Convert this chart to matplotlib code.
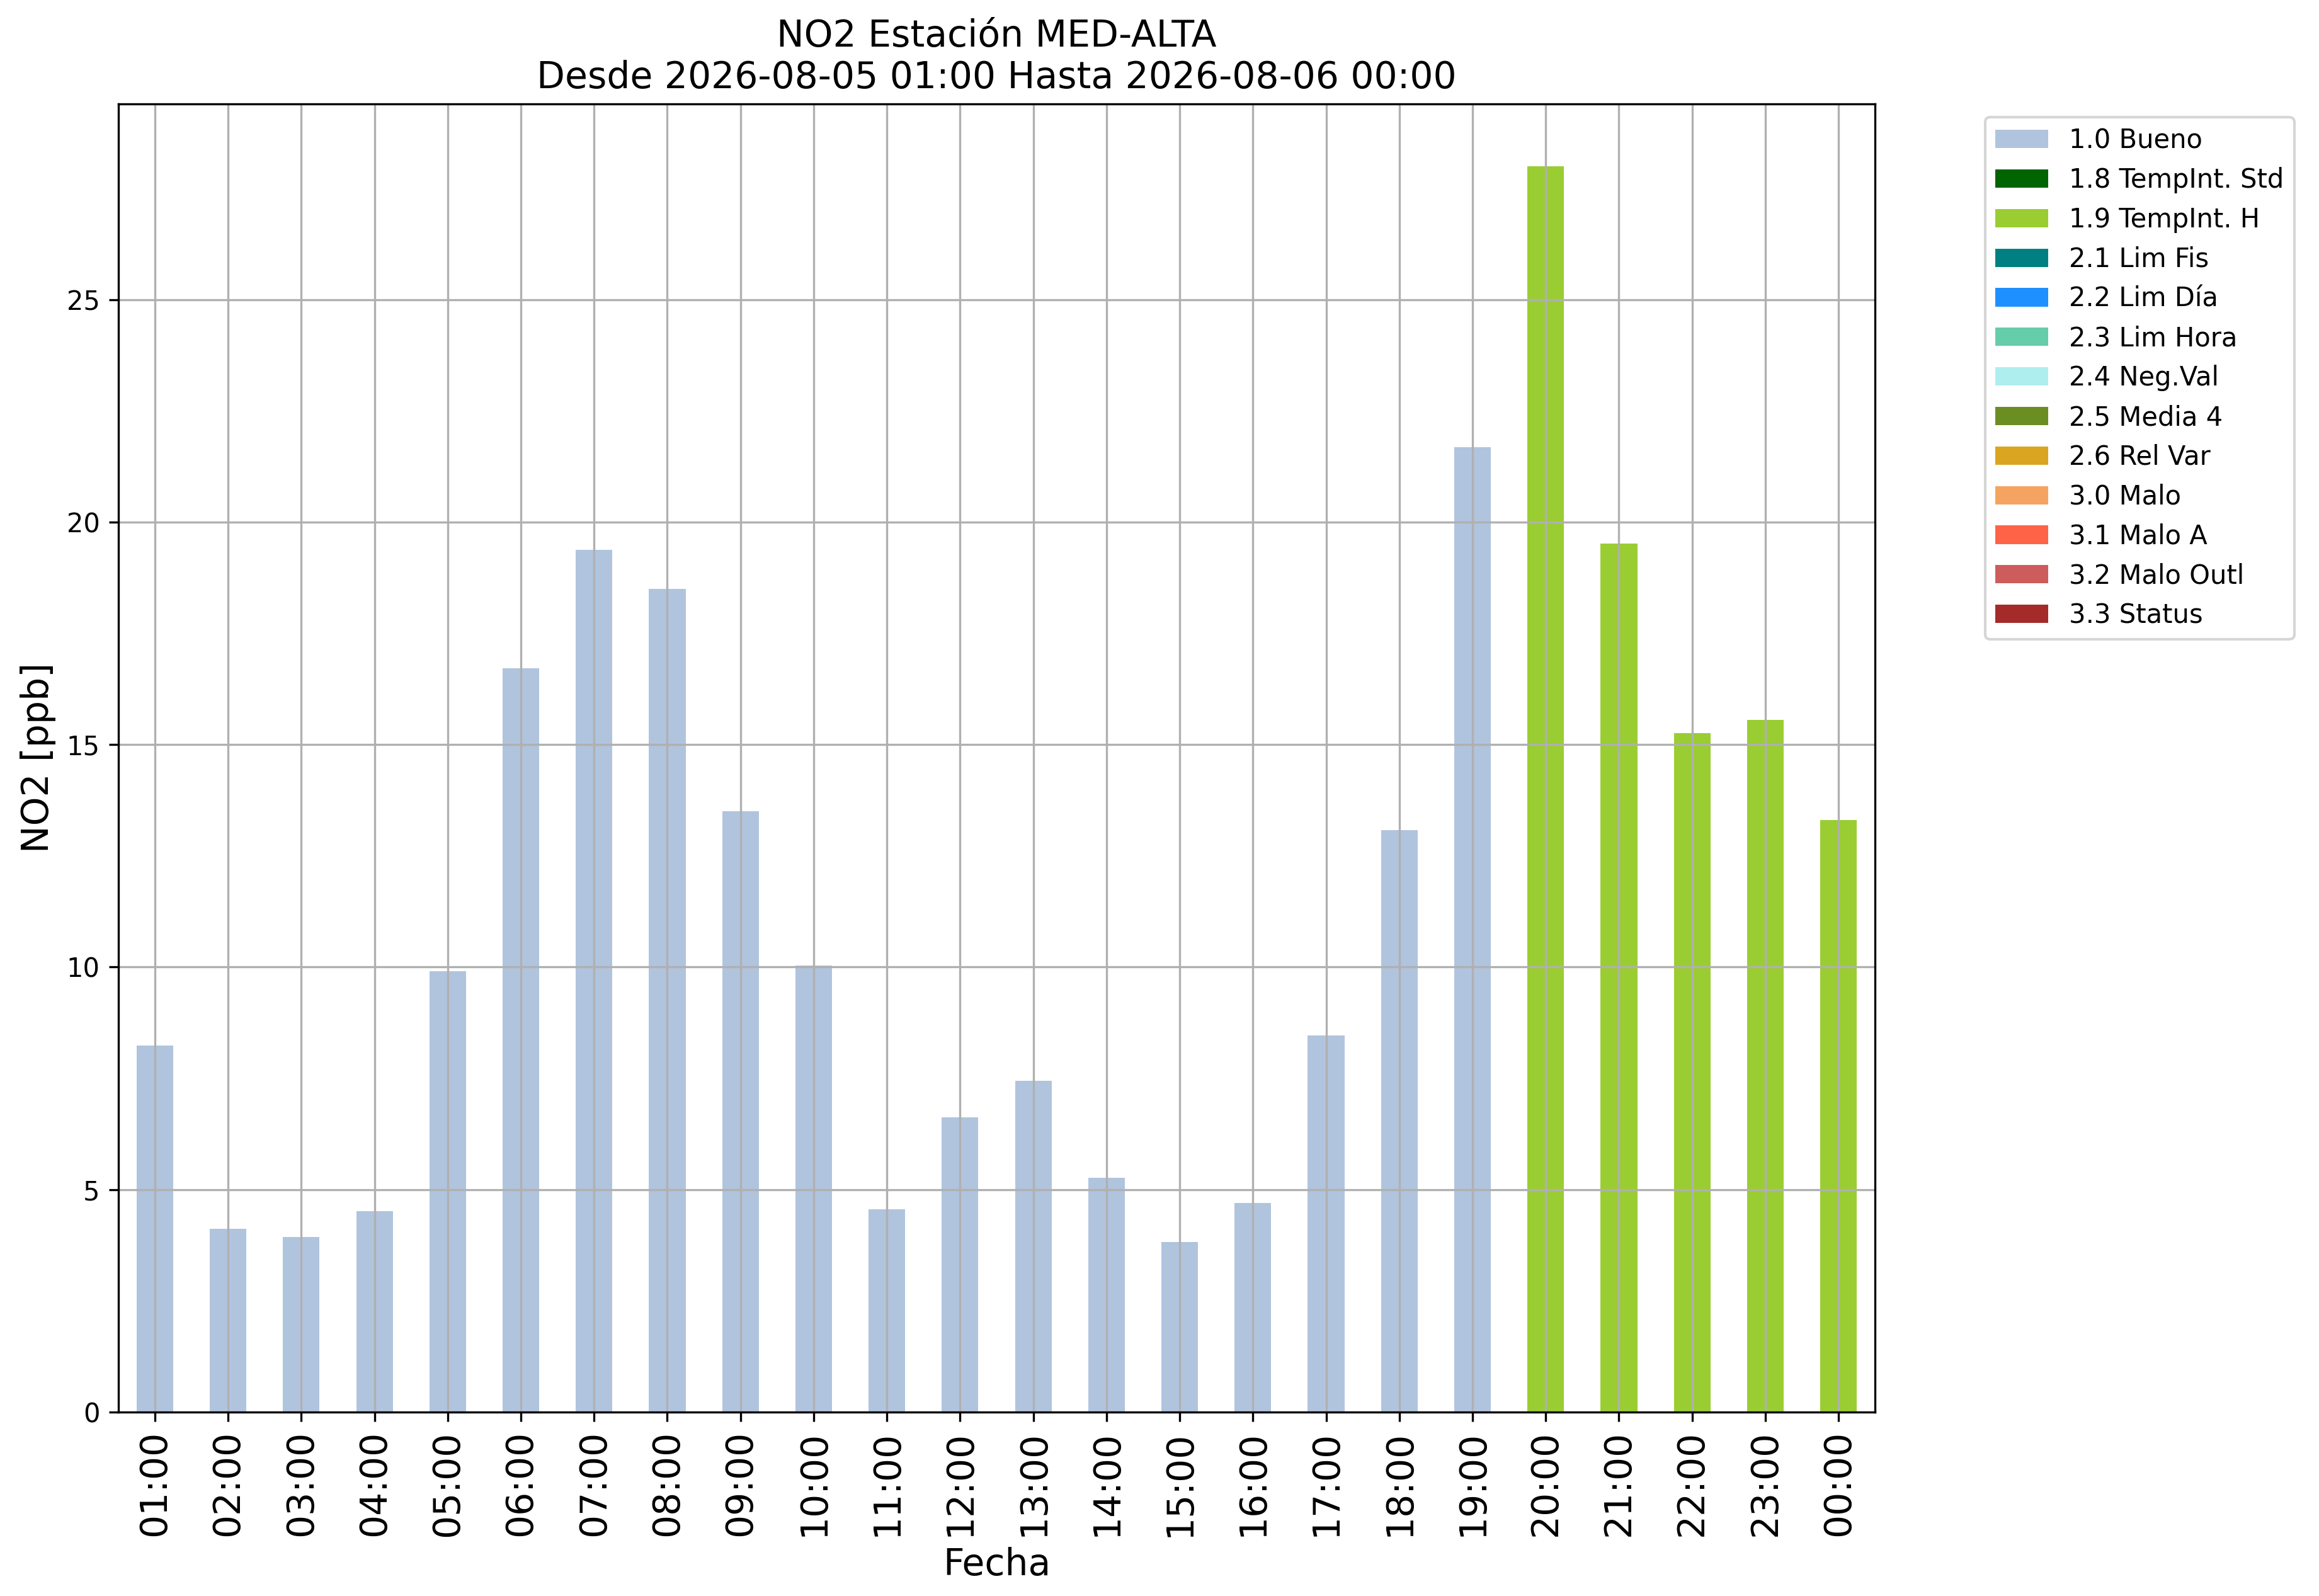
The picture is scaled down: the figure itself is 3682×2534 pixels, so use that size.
import numpy as np
import matplotlib
matplotlib.use("agg")
import matplotlib.pyplot as plt

# hourly NO2 readings and their validation flag
hours = ['01:00', '02:00', '03:00', '04:00', '05:00', '06:00', '07:00', '08:00',
         '09:00', '10:00', '11:00', '12:00', '13:00', '14:00', '15:00', '16:00',
         '17:00', '18:00', '19:00', '20:00', '21:00', '22:00', '23:00', '00:00']
no2 = [8.24, 4.12, 3.93, 4.52, 9.91, 16.72, 19.38, 18.50, 13.50, 10.04, 4.56, 6.62,
       7.45, 5.26, 3.82, 4.70, 8.46, 13.08, 21.68, 28.00, 19.52, 15.26, 15.56, 13.30]
flags = ['1.0'] * 19 + ['1.9'] * 5

flag_codes = ['1.0', '1.8', '1.9', '2.1', '2.2', '2.3', '2.4', '2.5', '2.6',
              '3.0', '3.1', '3.2', '3.3']
flag_names = ['Bueno', 'TempInt. Std', 'TempInt. H', 'Lim Fis', 'Lim Día', 'Lim Hora',
              'Neg.Val', 'Media 4', 'Rel Var', 'Malo', 'Malo A', 'Malo Outl', 'Status']
flag_colors = ['lightsteelblue', 'darkgreen', 'yellowgreen', 'teal', 'dodgerblue',
               'mediumaquamarine', 'paleturquoise', 'olivedrab', 'goldenrod',
               'sandybrown', 'tomato', 'indianred', 'brown']

fig = plt.figure(figsize=(3682 / 300, 2534 / 300), dpi=300)
ax = fig.add_axes([0.051, 0.1152, 0.7576, 0.8198])

x = np.arange(len(hours))
values = np.array(no2)
bottom = np.zeros(len(hours))
for code, name, color in zip(flag_codes, flag_names, flag_colors):
    part = np.where(np.array(flags) == code, values, 0.0)
    ax.bar(x, part, width=0.5, bottom=bottom, color=color, label=f'{code} {name}')
    bottom += part

ax.set_xlim(-0.5, len(hours) - 0.5)
ax.set_ylim(0, bottom.max() * 1.05)
ax.set_xticks(x)
ax.set_xticklabels(hours, rotation=90, fontsize=14)
ax.tick_params(axis='y', labelsize=10)
ax.grid(True)

ax.set_xlabel('Fecha', fontsize=14)
ax.set_ylabel('NO2 [ppb]', fontsize=14)
ax.set_title('NO2 Estación MED-ALTA\nDesde 2026-08-05 01:00 Hasta 2026-08-06 00:00', fontsize=14)

ax.legend(bbox_to_anchor=(1.055, 1), loc='upper left', fontsize=10)

fig.savefig('out.png', dpi=300)
